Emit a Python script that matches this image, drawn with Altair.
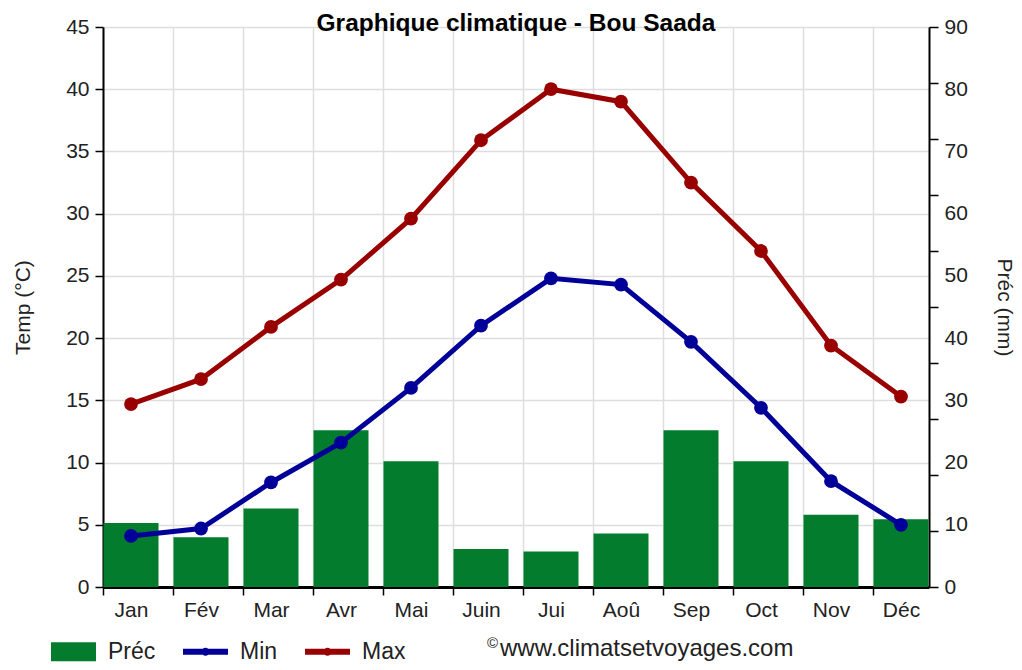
import altair as alt
import pandas as pd

months = ['Jan', 'Fév', 'Mar', 'Avr', 'Mai', 'Juin', 'Jui', 'Aoû', 'Sep', 'Oct', 'Nov', 'Déc']
t_max = [14.7, 16.7, 20.9, 24.7, 29.6, 35.9, 40.0, 39.0, 32.5, 27.0, 19.4, 15.3]
t_min = [4.1, 4.7, 8.4, 11.6, 16.0, 21.0, 24.8, 24.3, 19.7, 14.4, 8.5, 5.0]
prec = [10.3, 8.0, 12.6, 25.2, 20.2, 6.1, 5.7, 8.6, 25.2, 20.2, 11.6, 10.9]

temp_ticks = list(range(0, 46, 5))
prec_labels = list(range(0, 91, 10))
prec_ticks = list(range(0, 91, 9))

df = pd.DataFrame({'i': list(range(12)), 'month': months, 'Max': t_max, 'Min': t_min, 'Prec': prec})

FONT = 'Liberation Sans'
GREEN = '#037c2e'
BLUE = '#000099'
RED = '#990000'
LABEL = '#222222'

month_arr = "[" + ",".join("'%s'" % m for m in months) + "]"
xaxis = alt.Axis(values=[k - 0.4 for k in range(12)], labelExpr=month_arr + "[round(datum.value + 0.4)]",
                 labelOffset=28, labelFlush=False, labelOverlap=False, tickSize=8, tickColor='black',
                 tickWidth=1.5, domainColor='black', domainWidth=3, grid=True, gridColor='#dedede',
                 gridWidth=1.5, labelFont=FONT, labelFontSize=21, labelColor=LABEL, labelPadding=4,
                 title=None)
X = alt.X('i:Q', scale=alt.Scale(domain=[-0.4, 11.4], nice=False, zero=False, padding=0), axis=xaxis)

left_axis = alt.Axis(values=temp_ticks, orient='left', title='Temp (°C)', titleFont=FONT,
                     titleFontSize=21, titleFontWeight='normal', titleColor=LABEL, titlePadding=32,
                     labelFont=FONT, labelFontSize=21, labelColor=LABEL, labelPadding=6,
                     tickSize=8, tickColor='black', tickWidth=1.5, domainColor='black',
                     domainWidth=2, grid=True, gridColor='#dedede', gridWidth=1.5)
temp_scale = alt.Scale(domain=[0, 45], nice=False, zero=True)

base = alt.Chart(df)

bars = base.mark_bar(size=55, color=GREEN).encode(
    x=X,
    y=alt.Y('Prec:Q', scale=alt.Scale(domain=[0, 90], nice=False, padding=0),
            axis=alt.Axis(values=prec_ticks, orient='right', labels=False, title=None,
                          tickSize=9, tickColor='black', tickWidth=1.5, domainColor='black',
                          domainWidth=2, grid=False)),
)

def temp_layer(field, color):
    y = alt.Y(field + ':Q', scale=temp_scale, axis=left_axis)
    line = base.mark_line(color=color, strokeWidth=5).encode(x=X, y=y)
    pts = base.mark_circle(color=color, size=190, opacity=1).encode(x=X, y=y)
    return [line, pts]

temps = alt.layer(*(temp_layer('Min', BLUE) + temp_layer('Max', RED)))

right_labels = base.mark_point(opacity=0).encode(
    x=X,
    y=alt.Y('Prec:Q', scale=alt.Scale(domain=[0, 90], nice=False),
            axis=alt.Axis(values=prec_labels, orient='right', ticks=False, domain=False, grid=False,
                          labelFont=FONT, labelFontSize=21, labelColor=LABEL, labelPadding=15,
                          title='Préc (mm)', titleFont=FONT, titleFontSize=21,
                          titleFontWeight='normal', titleColor=LABEL, titlePadding=26)),
)

series = ['Préc', 'Min', 'Max']
rect_path = 'M-1,-0.42L1,-0.42L1,0.42L-1,0.42Z'
line_path = ('M-1,-0.13L1,-0.13L1,0.13L-1,0.13Z'
             'M-0.18,0A0.18,0.18 0 1,1 0.18,0A0.18,0.18 0 1,1 -0.18,0Z')
leg = alt.Legend(orient='none', legendX=-52, legendY=602, direction='horizontal', title=None,
                 symbolSize=2025, symbolOpacity=1, symbolStrokeWidth=0, labelFont=FONT,
                 labelFontSize=23, labelColor=LABEL, labelOffset=12, columnPadding=27, padding=0)
legend_layer = alt.Chart(pd.DataFrame({'s': series})).mark_point(filled=True, opacity=0).encode(
    color=alt.Color('s:N', scale=alt.Scale(domain=series, range=[GREEN, BLUE, RED]), legend=leg),
    shape=alt.Shape('s:N', scale=alt.Scale(domain=series, range=[rect_path, line_path, line_path]),
                    legend=leg),
)

copy_df = pd.DataFrame({'t': ['©'], 'u': ['www.climatsetvoyages.com'],
                        'title': ['Graphique climatique - Bou Saada']})
copy_sym = alt.Chart(copy_df).mark_text(font=FONT, fontSize=15, align='left', baseline='alphabetic',
                                        color=LABEL).encode(
    text='t:N', x=alt.value(384), y=alt.value(621))
copy_txt = alt.Chart(copy_df).mark_text(font=FONT, fontSize=24, align='left', baseline='alphabetic',
                                        color=LABEL).encode(
    text='u:N', x=alt.value(397), y=alt.value(629))
title_txt = alt.Chart(copy_df).mark_text(font=FONT, fontSize=24.5, fontWeight='bold', align='center',
                                         baseline='alphabetic', color='black').encode(
    text='title:N', x=alt.value(413), y=alt.value(4))

chart = alt.layer(bars, temps, right_labels, legend_layer, copy_sym, copy_txt, title_txt).resolve_scale(
    y='independent'
).properties(
    width=826, height=560,
    padding={'left': 95, 'top': 19, 'right': 85, 'bottom': 75},
    autosize=alt.AutoSizeParams(type='none'),
).configure_view(stroke=None)

chart.save('out.html', embed_options={'renderer': 'svg', 'actions': False})
